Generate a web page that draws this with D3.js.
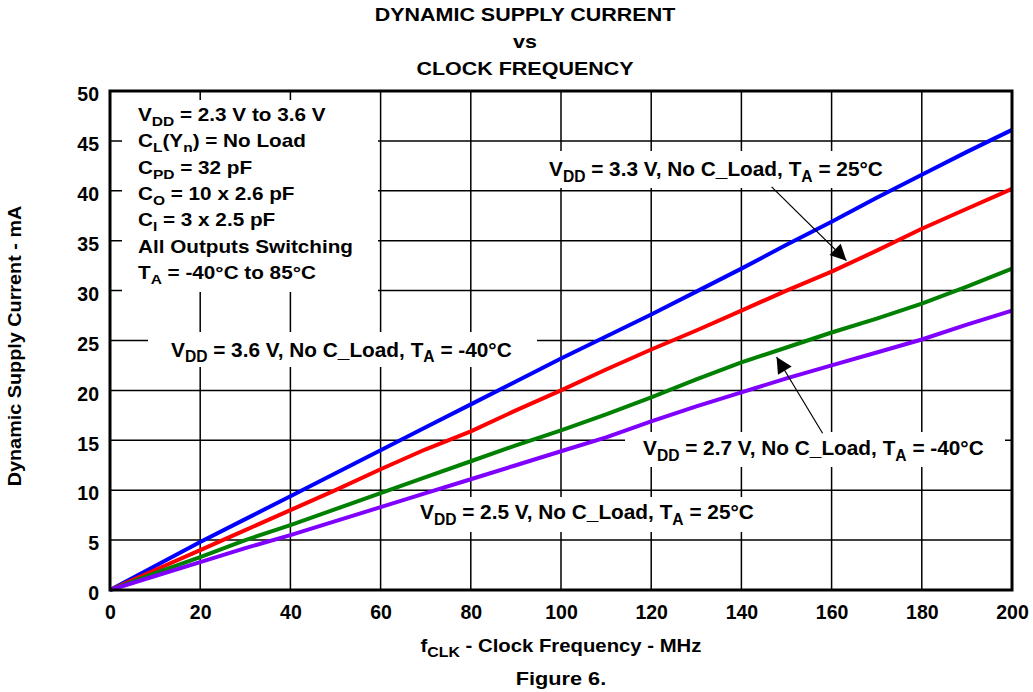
<!DOCTYPE html>
<html><head><meta charset="utf-8">
<script src="https://cdn.jsdelivr.net/npm/d3@7"></script>
<style>
body{margin:0;background:#fff;}
text{font-family:"Liberation Sans",Arial,sans-serif;font-weight:bold;fill:#000;}
</style></head>
<body><svg id="c" width="1033" height="692"></svg>
<script>
const freq = [0,10,20,30,40,50,60,70,80,90,100,110,120,130,140,150,160,170,180,190,200];
const blue36 = [0,2.4,4.8,7.1,9.4,11.7,14.0,16.3,18.6,20.9,23.2,25.4,27.6,29.9,32.2,34.6,36.9,39.3,41.6,43.9,46.1];
const red33 = [0,2.0,4.0,6.0,8.0,10.0,12.1,14.1,15.9,18.0,20.0,22.1,24.1,26.0,28.0,30.0,31.9,34.0,36.2,38.2,40.2];
const green27 = [0,1.7,3.3,5.0,6.5,8.1,9.7,11.3,12.9,14.5,16.0,17.6,19.3,21.1,22.8,24.3,25.8,27.2,28.7,30.4,32.2];
const purple25 = [0,1.4,2.8,4.2,5.5,6.9,8.3,9.7,11.1,12.5,13.9,15.3,16.9,18.4,19.8,21.2,22.5,23.8,25.1,26.6,28.0];
const xTicks = [0,20,40,60,80,100,120,140,160,180,200];
const yTicks = [0,5,10,15,20,25,30,35,40,45,50];
const seriesColors = ["#0000ff","#ff0000","#008000","#8000ff"];
const titleLines = ["DYNAMIC SUPPLY CURRENT","vs","CLOCK FREQUENCY"];

const svg = d3.select("#c");
const L=110,R=1012,T=91,B=590;
const x = d3.scaleLinear().domain([0,200]).range([L,R]);
const y = d3.scaleLinear().domain([0,50]).range([B,T]);

// rich text with subscripts, optional horizontal stretch
function rich(xx,yy,parts,fs,sx,anchor,rot){
  const t=svg.append("text").attr("transform",`translate(${xx},${yy})${rot?` rotate(${rot})`:""} scale(${sx||1},1)`)
    .attr("font-size",fs).attr("text-anchor",anchor||"start");
  let pend=0;
  parts.forEach(p=>{
    if(typeof p==="string"){ const s=t.append("tspan").text(p); if(pend){s.attr("dy",pend);pend=0;} }
    else { const s=t.append("tspan").attr("font-size",fs*(p.k||0.75)).attr("dy",fs*0.28+pend).text(p.s); pend=-fs*0.28; }
  });
  return t;
}

// title
const tb=[21,48,75];
titleLines.forEach((t,i)=>rich(525,tb[i],[t],19,1.13,"middle"));

// grid
const g = svg.append("g");
g.selectAll(".gx").data(xTicks.slice(1,-1)).join("line").attr("x1",d=>x(d)).attr("x2",d=>x(d)).attr("y1",T).attr("y2",B).attr("stroke","#000").attr("stroke-width",1.5);
g.selectAll(".gy").data(yTicks.slice(1,-1)).join("line").attr("y1",d=>y(d)).attr("y2",d=>y(d)).attr("x1",L).attr("x2",R).attr("stroke","#000").attr("stroke-width",1.5);

// axes
const xa = svg.append("g").attr("transform",`translate(0,${B})`).call(d3.axisBottom(x).tickValues(xTicks).tickSize(0).tickPadding(15));
const ya = svg.append("g").attr("transform",`translate(${L},0)`).call(d3.axisLeft(y).tickValues(yTicks).tickSize(0).tickPadding(11));
[xa,ya].forEach(a=>{a.select(".domain").remove();a.selectAll("text").attr("font-size",19.5).attr("font-family","Liberation Sans, Arial, sans-serif").attr("font-weight","bold");});
ya.selectAll("text").attr("dy","0.5em");

// white boxes behind text (cover grid)
const boxes=[[122,100,256,192],[148,332,389,35],[540,151,350,37],[625,432,380,35],[400,497,370,35]];
svg.selectAll(".bx").data(boxes).join("rect").attr("x",d=>d[0]).attr("y",d=>d[1]).attr("width",d=>d[2]).attr("height",d=>d[3]).attr("fill","#fff");

// lines
const all=[blue36,red33,green27,purple25];
const line=d3.line().x((d,i)=>x(freq[i])).y(d=>y(d));
svg.selectAll(".ln").data(all).join("path").attr("d",d=>line(d)).attr("fill","none").attr("stroke",(d,i)=>seriesColors[i]).attr("stroke-width",4).attr("stroke-linejoin","round");

// frame
svg.append("rect").attr("x",L).attr("y",T).attr("width",R-L).attr("height",B-T).attr("fill","none").attr("stroke","#000").attr("stroke-width",3);

// info text
const infoLines=[
 ["V",{s:"DD"}," = 2.3 V to 3.6 V"],
 ["C",{s:"L"},"(Y",{s:"n"},") = No Load"],
 ["C",{s:"PD"}," = 32 pF"],
 ["C",{s:"O"}," = 10 x 2.6 pF"],
 ["C",{s:"I"}," = 3 x 2.5 pF"],
 ["All Outputs Switching"],
 ["T",{s:"A"}," = -40°C to 85°C"]];
infoLines.forEach((p,i)=>rich(138,121+i*26.3,p,17.7,1.17));

// annotations
rich(171,356.5,["V",{s:"DD"}," = 3.6 V, No C_Load, T",{s:"A"}," = -40°C"],20.8,1);
rich(549,176,["V",{s:"DD"}," = 3.3 V, No C_Load, T",{s:"A"}," = 25°C"],20.8,1);
rich(643,455,["V",{s:"DD"}," = 2.7 V, No C_Load, T",{s:"A"}," = -40°C"],20.8,1);
rich(420,519,["V",{s:"DD"}," = 2.5 V, No C_Load, T",{s:"A"}," = 25°C"],20.8,1);

// arrows (data coords)
const arrows=[[146.7,40.4,163.3,33.0],[158.0,15.7,147.8,23.35]];
svg.append("defs").append("marker").attr("id","ah").attr("viewBox","0 0 10 10").attr("refX",10).attr("refY",5).attr("markerWidth",18).attr("markerHeight",16).attr("markerUnits","userSpaceOnUse").attr("orient","auto")
 .append("path").attr("d","M0,0 L10,5 L0,10 z").attr("fill","#000");
svg.selectAll(".ar").data(arrows).join("line").attr("x1",d=>x(d[0])).attr("y1",d=>y(d[1])).attr("x2",d=>x(d[2])).attr("y2",d=>y(d[3])).attr("stroke","#000").attr("stroke-width",1.2).attr("marker-end","url(#ah)");

// axis titles
rich(561,652,["f",{s:"CLK",k:0.78}," - Clock Frequency - MHz"],19,1.07,"middle");
rich(21,346,["Dynamic Supply Current - mA"],18.7,1.06,"middle",-90);
rich(561,685,["Figure 6."],18.7,1.16,"middle");
</script></body></html>
